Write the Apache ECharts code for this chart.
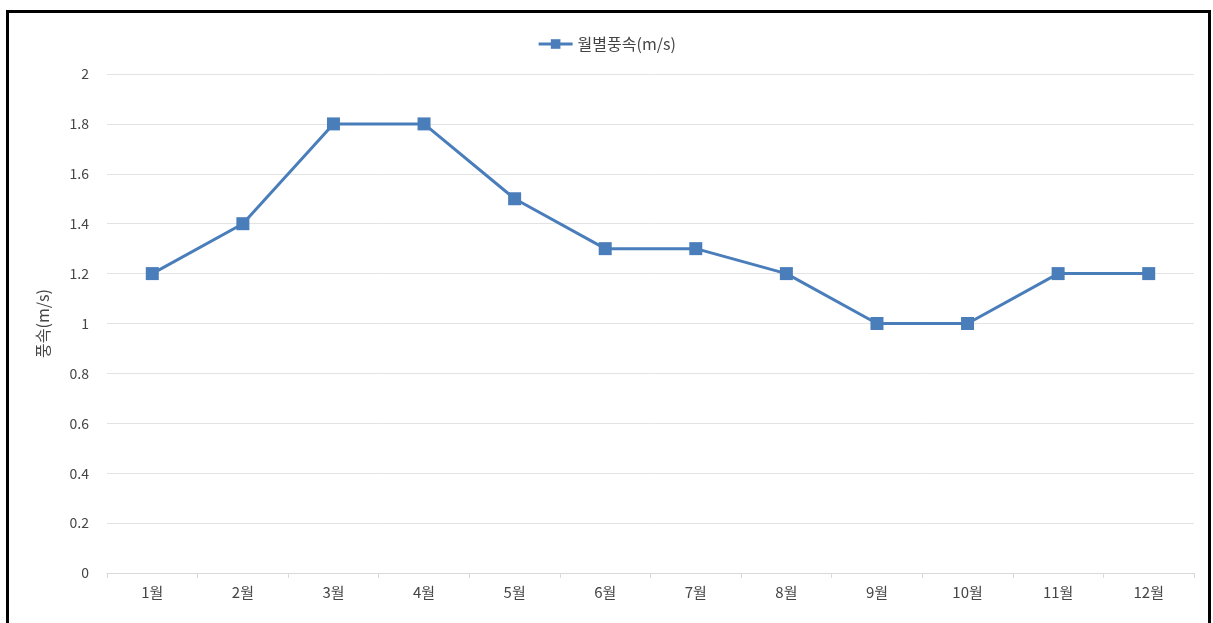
<!DOCTYPE html>
<html>
<head>
<meta charset="utf-8">
<script src="https://cdn.jsdelivr.net/npm/echarts@6/dist/echarts.min.js"></script>
<style>
  html, body { margin: 0; padding: 0; background: #ffffff; }
  #chart { width: 1213px; height: 623px; }
</style>
</head>
<body>
<div id="chart"></div>
<script>
// Monthly mean wind speed (m/s)
const months = ['1월', '2월', '3월', '4월', '5월', '6월', '7월', '8월', '9월', '10월', '11월', '12월'];
const windSpeed = [1.2, 1.4, 1.8, 1.8, 1.5, 1.3, 1.3, 1.2, 1.0, 1.0, 1.2, 1.2];
const seriesName = '월별풍속(m/s)';
const yAxisTitle = '풍속(m/s)';

const FONT = '"Noto Sans CJK KR", "Noto Sans", sans-serif';
const TEXT = '#454545';
const LINE = '#4a7ebb';

const chart = echarts.init(document.getElementById('chart'), null, { renderer: 'canvas' });
chart.setOption({
  backgroundColor: '#ffffff',
  animation: false,
  textStyle: { fontFamily: FONT },
  graphic: [{
    type: 'rect',
    shape: { x: 7.5, y: 11.5, width: 1202, height: 640 },
    style: { fill: 'none', stroke: '#000000', lineWidth: 3 },
    silent: true
  }],
  legend: {
    top: 31,
    left: 'center',
    itemWidth: 34,
    itemHeight: 12,
    itemGap: 4,
    lineStyle: { width: 3 },
    textStyle: { color: TEXT, fontSize: 16, fontFamily: FONT },
    data: [seriesName]
  },
  grid: { left: 107, right: 19, top: 74, bottom: 50, containLabel: false },
  xAxis: {
    type: 'category',
    data: months,
    boundaryGap: true,
    axisLine: { lineStyle: { color: '#d9d9d9', width: 1 } },
    axisTick: { show: true, length: 5, lineStyle: { color: '#d9d9d9' } },
    axisLabel: { color: TEXT, fontSize: 15, margin: 12, fontFamily: FONT },
    splitLine: { show: false }
  },
  yAxis: {
    type: 'value',
    min: 0,
    max: 2,
    interval: 0.2,
    name: yAxisTitle,
    nameLocation: 'middle',
    nameGap: 56,
    nameRotate: 90,
    nameTextStyle: { color: TEXT, fontSize: 16, fontFamily: FONT },
    axisLine: { show: false },
    axisTick: { show: false },
    axisLabel: {
      color: TEXT, fontSize: 14, margin: 18, fontFamily: FONT,
      formatter: v => String(Math.round(v * 10) / 10)
    },
    splitLine: { lineStyle: { color: '#e3e3e3', width: 1 } }
  },
  series: [{
    name: seriesName,
    type: 'line',
    data: windSpeed,
    symbol: 'rect',
    symbolSize: 13,
    lineStyle: { color: LINE, width: 3 },
    itemStyle: { color: LINE },
    emphasis: { disabled: true }
  }]
});
</script>
</body>
</html>
